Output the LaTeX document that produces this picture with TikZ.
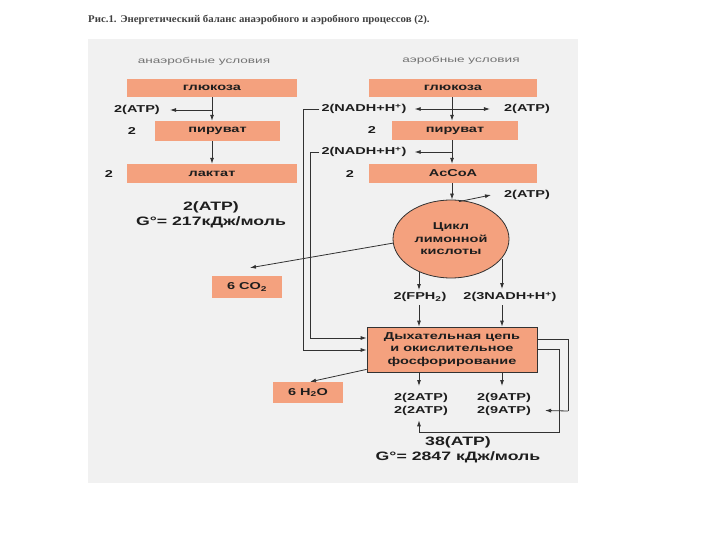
\documentclass[tikz,border=0pt]{standalone}
\usepackage{fontspec}
\setmainfont{Liberation Sans}
\newfontfamily\lab[FakeStretch=1.45]{Liberation Sans}
\newfontfamily\sub[FakeStretch=1.6]{Liberation Sans}
\newfontfamily\ttl[FakeStretch=1.05]{Liberation Serif}
\usetikzlibrary{arrows.meta,calc,shapes.geometric}
\definecolor{salmon}{RGB}{244,161,126}
\definecolor{panel}{RGB}{241,241,241}
\definecolor{ink}{RGB}{30,30,30}
\definecolor{ln}{RGB}{50,50,50}
\tikzset{
  box/.style={fill=salmon, draw=none, inner sep=0pt, text=ink, font=\lab\bfseries\fontsize{10}{12}\selectfont},
  bbox/.style={box, draw=ln, line width=0.8pt},
  lbl/.style={inner sep=0pt, text=ink, font=\lab\bfseries\fontsize{10}{12}\selectfont},
  big/.style={inner sep=0pt, text=ink, align=center, font=\lab\bfseries\fontsize{12.2}{14.5}\selectfont},
  subt/.style={inner sep=0pt, text=black!55, font=\sub\fontsize{8.5}{10}\selectfont},
  arr/.style={draw=ln, line width=0.8pt, -{Latex[length=6pt,width=4pt]}},
  ln/.style={draw=ln, line width=0.8pt},
}
\begin{document}
\begin{tikzpicture}[x=1pt,y=-1pt]
\path[use as bounding box, fill=white] (0,0) rectangle (720,540);
\fill[panel] (88,39) rectangle (578,483);
\node[anchor=west, inner sep=0pt, text=black!75, font=\ttl\bfseries\fontsize{10.3}{12}\selectfont] (title) at (88,20)
  {Рис.1. Энергетический баланс анаэробного и аэробного процессов (2).};

% ---------- left: anaerobic ----------
\node[subt] (Lsub) at (204,61) {анаэробные условия};
\node[box, minimum width=170pt, minimum height=18pt] (Lglu) at (212,88) {глюкоза};
\node[box, minimum width=125pt, minimum height=20pt] (Lpyr) at (217.5,131) {пируват};
\node[box, minimum width=170pt, minimum height=19pt] (Llac) at (212,173.5) {лактат};
\node[lbl] (Latp) at (137,110) {2(ATP)};
\node[lbl] (Ln1) at (132,131) {2};
\node[lbl] (Ln2) at (109,174) {2};
\coordinate (Lj) at (212,110);
\draw[arr] (Lglu.south) -- (Lglu.south |- Lpyr.north);
\draw[arr] (Lj) -- ($(Latp.east)+(10,0)$);
\draw[arr] (Lglu.south |- Lpyr.south) -- (Lglu.south |- Llac.north);
\node[big] (Ltot) at (211,215) {2(ATP)\\G°= 217кДж/моль};

% ---------- right: aerobic ----------
\node[subt] (Rsub) at (461,60) {аэробные условия};
\node[box, minimum width=168pt, minimum height=18pt] (Rglu) at (453,88) {глюкоза};
\node[box, minimum width=126pt, minimum height=19pt] (Rpyr) at (455,130.5) {пируват};
\node[box, minimum width=168pt, minimum height=19pt] (Racc) at (453,173.5) {AcCoA};
\node[lbl] (Rn1) at (372,130.5) {2};
\node[lbl] (Rn2) at (350,174) {2};
\node[lbl] (N1) at (364,109) {2(NADH+H\textsuperscript{+})};
\node[lbl] (A1) at (527,109) {2(ATP)};
\node[lbl] (N2) at (364,152) {2(NADH+H\textsuperscript{+})};
\node[lbl] (A2) at (527,195) {2(ATP)};
\coordinate (X) at (452,0);
\draw[arr] (X |- Rglu.south) -- (X |- Rpyr.north);
\draw[arr] (X |- Rpyr.south) -- (X |- Racc.north);
\draw[arr] (452,109) -- ($(N1.east)+(8,0)$);
\draw[arr] (452,109) -- ($(A1.west)+(-14,0)$);
\draw[arr] (452,152) -- ($(N2.east)+(8,0)$);

\node[ellipse, draw=ln, line width=0.8pt, fill=salmon, minimum width=116pt, minimum height=78pt, inner sep=0pt,
      align=center, text=ink, font=\lab\bfseries\fontsize{10}{12.5}\selectfont] (Cyc) at (451,239)
  {Цикл\\лимонной\\кислоты};
\draw[arr] (X |- Racc.south) -- (X |- Cyc.north);
\draw[arr] ($(Cyc.north)+(8,2)$) -- ($(A2.west)+(-13,0)$);

\node[box, minimum width=70pt, minimum height=22pt] (CO2) at (247,287) {6 CO\textsubscript{2}};
\draw[arr] ($(Cyc.west)+(1,4)$) -- ($(CO2.north)+(3,-8)$);

\node[lbl] (F) at (420,297) {2(FPH\textsubscript{2})};
\node[lbl] (NN) at (510,297) {2(3NADH+H\textsuperscript{+})};
\coordinate (xf) at (419,0);
\coordinate (xn) at (502,0);
\draw[arr] (419,272) -- (419,290);
\draw[arr] (502,259) -- (502,289);

\node[bbox, minimum width=170pt, minimum height=45pt, align=center,
      font=\lab\bfseries\fontsize{10}{12.3}\selectfont] (Resp) at (452,349.5)
  {Дыхательная цепь\\и окислительное\\фосфорирование};
\draw[arr] (xf |- F.south) ++(0,3) -- (xf |- Resp.north);
\draw[arr] (xn |- NN.south) ++(0,3) -- (xn |- Resp.north);

% inputs from NADH on the left
\coordinate (o1) at (303,350);
\coordinate (o2) at (310,338);
\draw[arr] ($(N1.west)+(-2,0)$) -| (o1) -- (o1 -| Resp.west);
\draw[arr] ($(N2.west)+(-2,0)$) -| (o2) -- (o2 -| Resp.west);

% water
\node[box, minimum width=70pt, minimum height=21pt] (H2O) at (308,392.5) {6 H\textsubscript{2}O};
\draw[arr] ($(Resp.south west)+(0,-3)$) -- ($(H2O.north)+(2,0)$);

% outputs
\node[lbl] (T2a) at (421,398) {2(2ATP)};
\node[lbl] (T2b) at (421,410.5) {2(2ATP)};
\node[lbl] (T9a) at (504,398) {2(9ATP)};
\node[lbl] (T9b) at (504,410.5) {2(9ATP)};
\draw[arr] (xf |- Resp.south) -- (419,386);
\draw[arr] (xn |- Resp.south) -- (502,386);

\coordinate (r1) at (568,339);
\coordinate (r2) at (559,349);
\draw[ln] (r1 -| Resp.east) -- (r1) -- (568,411);
\draw[arr] (568,411) -- ($(T9b.east)+(14,0)$);
\draw[ln] (r2 -| Resp.east) -- (r2) -- (559,432) -- (419,432);
\draw[arr] (419,432) -- ($(T2b.south)+(-2,5)$);

\node[big] (Rtot) at (458,450) {38(ATP)\\G°= 2847 кДж/моль};
\end{tikzpicture}
\end{document}
